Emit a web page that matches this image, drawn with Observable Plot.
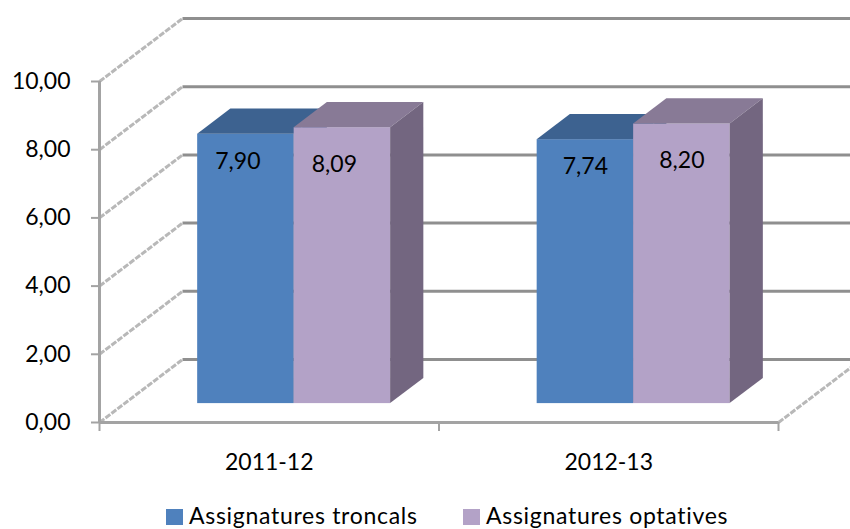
<!DOCTYPE html>
<html><head><meta charset="utf-8">
<script src="https://cdn.jsdelivr.net/npm/d3@7"></script>
<script src="https://cdn.jsdelivr.net/npm/@observablehq/plot@0.6"></script>
<style>
html,body{margin:0;padding:0;overflow:hidden;background:#fff;width:850px;height:529px}
#chart{position:relative;width:850px;height:529px;overflow:hidden}
#chart svg{position:absolute;left:0;top:0}
.item{position:absolute;top:504px;height:23px;line-height:23px;font-family:Lato,sans-serif;font-size:23px;letter-spacing:0.7px;color:#000;white-space:nowrap}
.sw{position:absolute;width:17px;height:16px;top:509px}
</style></head><body><div id="chart"></div>
<script>
// ---- data ----
const categories = ["2011-12", "2012-13"];
const seriesNames = ["Assignatures troncals", "Assignatures optatives"];
const troncals = [7.90, 7.74];
const optatives = [8.09, 8.20];
const yTicks = [0, 2, 4, 6, 8, 10];
const frontColors = ["#4f81bd", "#b3a2c7"];
const topColors = ["#3d6290", "#887a96"];
const sideColors = ["#3a5c87", "#736680"];

// ---- 3D geometry (in data units) ----
const DX = 0.2445;   // depth shift along x (category units)
const DY = 1.847;    // depth shift along y (value units)
const BW = 0.2842;   // bar width (category units)
const FD = 0.3, BD = 0.7; // bar front/back depth fractions
const fmt = v => v.toFixed(2).replace(".", ",");

const values = [troncals, optatives];
const bars = [];
categories.forEach((c, g) => values.forEach((vals, s) => {
  const x0 = g + 0.5 + (s - 1) * BW;
  bars.push({id: g + "-" + s, g, s, v: vals[g], x0, x1: x0 + BW});
}));

const topPts = b => {
  const fx = FD * DX, bx = BD * DX, fy = b.v + FD * DY, by = b.v + BD * DY;
  return [
    {id: b.id, s: b.s, x: b.x0 + fx, y1: fy, y2: fy},
    {id: b.id, s: b.s, x: b.x0 + bx, y1: fy, y2: by},
    {id: b.id, s: b.s, x: b.x1 + fx, y1: fy, y2: by},
    {id: b.id, s: b.s, x: b.x1 + bx, y1: by, y2: by}
  ];
};
const sidePts = b => [
  {id: b.id, s: b.s, x: b.x1 + FD * DX, y1: FD * DY, y2: b.v + FD * DY},
  {id: b.id, s: b.s, x: b.x1 + BD * DX, y1: BD * DY, y2: b.v + BD * DY}
];

const barMarks = [];
[0, 1].forEach(s => {
  const bs = bars.filter(b => b.s === s);
  barMarks.push(
    Plot.rect(bs, {x1: b => b.x0 + FD * DX, x2: b => b.x1 + FD * DX, y1: FD * DY, y2: b => b.v + FD * DY, fill: frontColors[s]}),
    Plot.area(bs.flatMap(topPts), {x1: "x", y1: "y1", y2: "y2", z: "id", fill: topColors[s]}),
    Plot.area(bs.flatMap(sidePts), {x1: "x", y1: "y1", y2: "y2", z: "id", fill: sideColors[s]})
  );
  // value labels (first group sits slightly left in the original)
  [0, 1].forEach(g => {
    barMarks.push(
      Plot.text(bs.filter(b => b.g === g), {x: b => (b.x0 + b.x1) / 2 + FD * DX, y: b => b.v + FD * DY, text: b => fmt(b.v), dy: s === 0 ? 27 : 37, dx: g === 0 ? -8 : 0, fontSize: 23, fill: "#000"})
    );
  });
});

const nCat = categories.length;
const dash = {stroke: "#b8b8b8", strokeWidth: 3, strokeDasharray: "6,1.5"};
const svg = Plot.plot({
  width: 850, height: 495,
  marginLeft: 99, marginRight: 72, marginTop: 81, marginBottom: 73,
  x: {type: "linear", domain: [0, nCat], axis: null},
  y: {type: "linear", domain: [0, 10], axis: null},
  style: {fontFamily: "Lato, sans-serif", background: "transparent", overflow: "visible"},
  marks: [
    // back wall gridlines
    Plot.link(yTicks, {x1: DX, x2: nCat + DX + 0.1, y1: d => d + DY, y2: d => d + DY, stroke: "#8f8f8f", strokeWidth: 3}),
    // left wall diagonals
    Plot.link(yTicks, {x1: 0, y1: d => d, x2: DX, y2: d => d + DY, ...dash}),
    // right floor edge
    Plot.link([0], {x1: nCat, y1: 0, x2: nCat + DX, y2: DY, ...dash}),
    // front axes
    Plot.ruleX([0], {y1: 0, y2: 10, stroke: "#a3a3a3", strokeWidth: 3}),
    Plot.ruleY([0], {x1: 0, x2: nCat, stroke: "#a3a3a3", strokeWidth: 3}),
    Plot.axisY({ticks: yTicks, tickFormat: fmt, tickSize: 8, tickPadding: 21, stroke: "#a3a3a3", strokeWidth: 2, fill: "#000", fontSize: 23, label: null}),
    Plot.axisX({ticks: d3.range(nCat + 1), tickSize: 9, stroke: "#a3a3a3", strokeWidth: 2, fill: "none", label: null}),
    Plot.text(categories, {x: (d, i) => i + 0.5, y: 0, dy: 40, text: d => d, fontSize: 23, fill: "#000"}),
    ...barMarks
  ]
});
const chart = document.getElementById("chart");
chart.appendChild(svg);

// legend below the svg
const legendX = [166, 463];
seriesNames.forEach((name, i) => {
  const sw = document.createElement("div");
  sw.className = "sw";
  sw.style.left = legendX[i] + "px";
  sw.style.background = frontColors[i];
  chart.appendChild(sw);
  const t = document.createElement("div");
  t.className = "item";
  t.style.left = (legendX[i] + 23) + "px";
  t.textContent = name;
  chart.appendChild(t);
});
</script>
</body></html>
